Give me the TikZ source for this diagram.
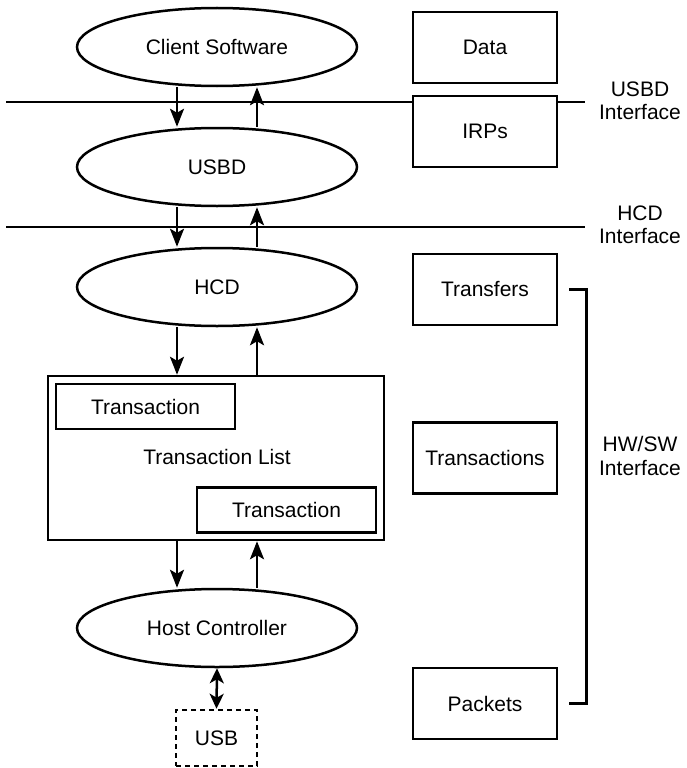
\documentclass[tikz,border=0pt]{standalone}
\usepackage{fontspec}
\setmainfont{Liberation Sans}
\usetikzlibrary{arrows.meta,shapes.geometric}
\begin{document}
\begin{tikzpicture}[x=1pt,y=-1pt,
  every node/.style={font=\fontsize{21}{23.5}\selectfont, inner sep=0pt},
  layer/.style={draw, line width=2.5pt, ellipse, minimum width=280pt, minimum height=78pt},
  unitbox/.style={draw, line width=2.5pt, rectangle, minimum width=144pt, minimum height=71pt},
  trbox/.style={draw, line width=2.5pt, rectangle, minimum width=179pt, minimum height=45pt},
  sep/.style={line width=2.5pt},
  flow/.style={line width=2.5pt, -{Stealth[length=18pt,width=14pt,inset=4pt]}},
  biflow/.style={line width=2.5pt, {Stealth[length=15pt,width=14pt,inset=4pt]}-{Stealth[length=15pt,width=14pt,inset=4pt]}},
  lbl/.style={align=center}]
\useasboundingbox (0,0) rectangle (686,768);

% left column
\node[layer] (cs) at (217,47) {Client Software};
\node[layer] (usbd) at (217,167) {USBD};
\node[layer] (hcd) at (217,287) {HCD};
\node[draw, line width=2.5pt, minimum width=336pt, minimum height=164pt] (tl) at (216,458) {};
\node (tltext) at (217,457) {Transaction List};
\node[trbox] (t1) at (145.5,406.5) {Transaction};
\node[trbox] (t2) at (286.5,510) {Transaction};
\node[layer] (hc) at (217,628) {Host Controller};
\node[draw, line width=2.5pt, dash pattern=on 5pt off 4pt, minimum width=81pt, minimum height=56pt] (usb) at (216.5,738) {USB};

% right column
\node[unitbox] (data) at (485,47.5) {Data};
\node[unitbox] (irps) at (485,131.5) {IRPs};
\node[unitbox] (tr) at (485,289.5) {Transfers};
\node[unitbox] (tx) at (485,458) {Transactions};
\node[unitbox] (pk) at (485,703.5) {Packets};

% interface lines
\coordinate (u0) at (6,102);
\coordinate (u1) at (585,102);
\coordinate (h0) at (6,227);
\coordinate (h1) at (585,227);
\draw[sep] (u0) -- (u0 -| irps.west);
\draw[sep] (u1 -| irps.east) -- (u1);
\draw[sep] (h0) -- (h1);

% labels
\node[lbl] (ulbl) at (640,101) {USBD\\Interface};
\node[lbl] (hlbl) at (640,225) {HCD\\Interface};
\node[lbl] (hwlbl) at (640,456) {HW/SW\\Interface};

% bracket
\draw[line width=2.5pt] ([xshift=11pt]tr.east) -- ++(17,0) |- ([xshift=11pt]pk.east);

% arrows
\draw[flow] ([xshift=-40pt]cs.south) -- ([xshift=-40pt]usbd.north);
\draw[flow] ([xshift=40pt]usbd.north) -- ([xshift=40pt]cs.south);
\draw[flow] ([xshift=-40pt]usbd.south) -- ([xshift=-40pt]hcd.north);
\draw[flow] ([xshift=40pt]hcd.north) -- ([xshift=40pt]usbd.south);
\draw[flow] ([xshift=-40pt]hcd.south) -- (tl.north -| 177,0);
\draw[flow] (tl.north -| 257,0) -- ([xshift=40pt]hcd.south);
\draw[flow] (tl.south -| 177,0) -- ([xshift=-40pt]hc.north);
\draw[flow] ([xshift=40pt]hc.north) -- (tl.south -| 257,0);
\draw[biflow] (hc.south) -- (usb.north);
\end{tikzpicture}
\end{document}
